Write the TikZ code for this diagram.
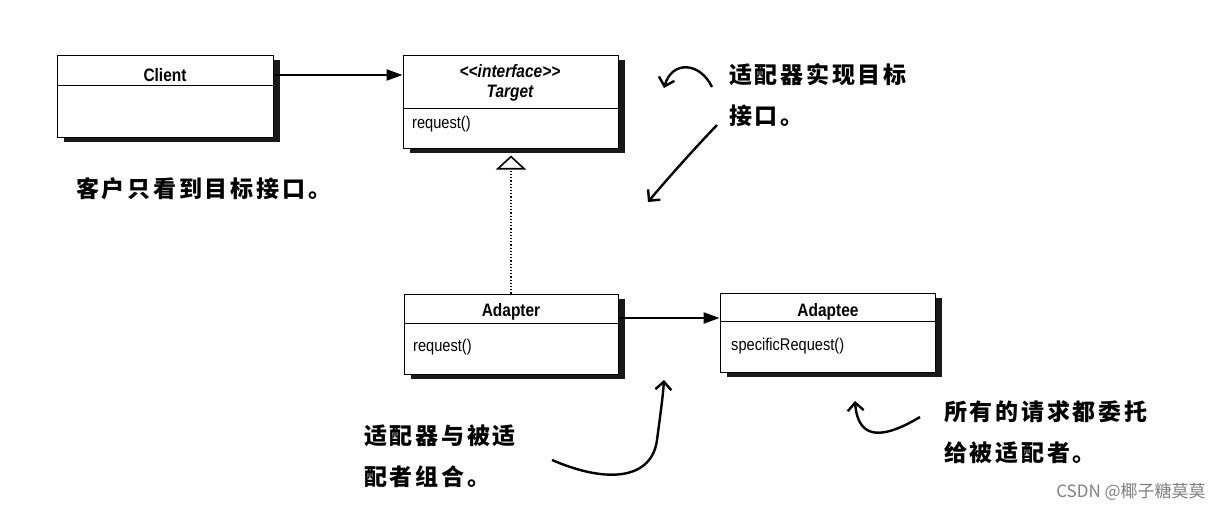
\documentclass[tikz,border=0pt]{standalone}
\usepackage{fontspec}
\setmainfont{Liberation Sans}
\newfontfamily\umlfont[FakeStretch=0.86]{Liberation Sans}
\newfontfamily\cjk[LetterSpace=12]{Noto Sans CJK SC}
\newfontfamily\markfont{Noto Sans CJK SC}
\usetikzlibrary{arrows.meta,shadows,positioning}

\begin{document}
\begin{tikzpicture}[x=1pt, y=-1pt,
  classbox/.style={draw, line width=1pt, fill=white, inner sep=0pt,
    drop shadow={shadow xshift=7pt, shadow yshift=-5pt, fill=black, opacity=0.9}},
  title/.style={font=\umlfont\bfseries\fontsize{18}{20}\selectfont, inner sep=0pt},
  method/.style={font=\umlfont\fontsize{17}{19}\selectfont, inner sep=0pt, anchor=west},
  note/.style={font=\cjk\bfseries\fontsize{23}{41}\selectfont, inner sep=0pt,
    anchor=north west, align=left},
  hand/.style={line width=2.4pt, -{Straight Barb[length=8pt,width=16pt]}},
  assoc/.style={line width=2.2pt, -{Triangle[length=16pt,width=11pt]}}]
  \useasboundingbox (0,0) rectangle (1232,512);

  % Client
  \node[classbox, minimum width=216pt, minimum height=82pt] (client) at (165,96) {};
  \node[title] (clientname) at (165,75) {Client};
  \draw[line width=0.8pt] ([yshift=-31pt]client.north west) -- ([yshift=-31pt]client.north east);

  % Target
  \node[classbox, minimum width=215pt, minimum height=93pt] (target) at (510.5,101.5) {};
  \node[title, font=\umlfont\bfseries\itshape\fontsize{18}{20}\selectfont] (stereo) at (510,71) {<<interface>>};
  \node[title, font=\umlfont\bfseries\itshape\fontsize{18}{20}\selectfont] (targetname) at (510,93) {Target};
  \draw[line width=0.8pt] ([yshift=-54pt]target.north west) -- ([yshift=-54pt]target.north east);
  \node[method] (targetreq) at (412,124) {request()};

  % Adapter
  \node[classbox, minimum width=214pt, minimum height=80pt] (adapter) at (511,334) {};
  \node[title] (adaptername) at (511,312) {Adapter};
  \draw[line width=0.8pt] ([yshift=-30pt]adapter.north west) -- ([yshift=-30pt]adapter.north east);
  \node[method] (adapterreq) at (413,347) {request()};

  % Adaptee
  \node[classbox, minimum width=215pt, minimum height=79pt] (adaptee) at (827.5,332.5) {};
  \node[title] (adapteename) at (828,312) {Adaptee};
  \draw[line width=0.8pt] ([yshift=-29pt]adaptee.north west) -- ([yshift=-29pt]adaptee.north east);
  \node[method] (adapteereq) at (731,346) {specificRequest()};

  % Relations
  \draw[assoc] (client.east |- clientname) -- (target.west |- clientname);
  \draw[dotted, line width=1.2pt, shorten >=7pt,
    -{Triangle[open, length=14pt, width=30pt, line width=1.6pt]}] (adapter.north) -- (adapter.north |- target.south);
  \draw[assoc] ([yshift=16pt]adapter.east) -- ([yshift=16pt]adapter.east -| adaptee.west);

  % Notes
  \node[note] (clientnote) at (76,177) {客户只看到目标接口。};
  \node[note] (targetnote) at (729,63) {适配器实现目标\\接口。};
  \node[note] (adapternote) at (364,425) {适配器与被适\\配者组合。};
  \node[note] (adapteenote) at (944,400) {所有的请求都委托\\给被适配者。};

  % Hand arrows
  \coordinate (curlstart) at (712,87);
  \coordinate (curlend) at (664,88);
  \draw[hand] (curlstart) .. controls (700,62) and (672,60) .. (curlend);
  \coordinate (pointstart) at (717,125);
  \coordinate (pointend) at (648,202);
  \draw[hand] (pointstart) .. controls (695,148) and (668,178) .. (pointend);
  \coordinate (joinstart) at (552,460);
  \coordinate (joinend) at (664,380);
  \draw[hand] (joinstart) .. controls (610,485) and (652,478) .. (657,440)
    .. controls (661,410) and (663,395) .. (joinend);
  \coordinate (delstart) at (920,417);
  \coordinate (delend) at (855,401);
  \draw[hand] (delstart) .. controls (885,438) and (858,442) .. (delend);

  % Watermark
  \node[font=\markfont\fontsize{17}{17}\selectfont, text=black!50, inner sep=0pt] (watermark) at (1131,492) {CSDN @椰子糖莫莫};
\end{tikzpicture}
\end{document}
